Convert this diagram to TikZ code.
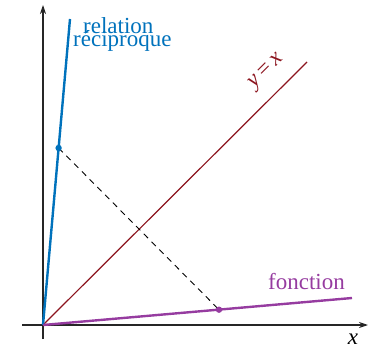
\documentclass[tikz,border=0pt]{standalone}
\usepackage{fontspec}
\setmainfont{Liberation Serif}
\usetikzlibrary{arrows.meta}
\definecolor{recblue}{RGB}{0,114,188}
\definecolor{idred}{RGB}{140,20,30}
\definecolor{fnpurple}{RGB}{150,60,160}
\begin{document}
\begin{tikzpicture}[x=1pt,y=1pt,
  axis/.style={line width=1.1pt,black!85,-{Stealth[length=9pt,width=6pt]}},
  curve/.style={line width=2.4pt},
  lbl/.style={inner sep=0pt,font=\fontsize{23}{23}\selectfont}]
\useasboundingbox (0,0) rectangle (370,349);
\coordinate (O) at (43,24);
\coordinate (xs) at (22,24);
\coordinate (xe) at (368,24);
\coordinate (ys) at (43,10);
\coordinate (ye) at (43,344);
\coordinate (B) at (70,330);
\coordinate (F) at (352,51);
\coordinate (R) at (307,287);
\coordinate (P) at (58.6,201);
\coordinate (Q) at (219,39.3);
\draw[axis] (xs) -- (xe);
\draw[axis] (ys) -- (ye);
\draw[idred,line width=1.2pt] (O) -- (R);
\draw[dashed,line width=0.9pt,dash pattern=on 6pt off 5pt] (P) -- (Q);
\draw[curve,recblue] (O) -- (B);
\draw[curve,fnpurple] (O) -- (F);
\fill[recblue] (P) circle (3.2pt);
\fill[fnpurple] (Q) circle (3.2pt);
\node[lbl,recblue,anchor=base west] (rel) at (83,316) {relation};
\node[lbl,recblue,anchor=base west] (rec) at (73,302) {réciproque};
\node[lbl,fnpurple,anchor=base west] (fn) at (268,60) {fonction};
\node[lbl,idred,rotate=45] (yx) at (267,277) {\textit{y}\,=\,\textit{x}};
\node[lbl] (xl) at (353,10) {\textit{x}};
\end{tikzpicture}
\end{document}
